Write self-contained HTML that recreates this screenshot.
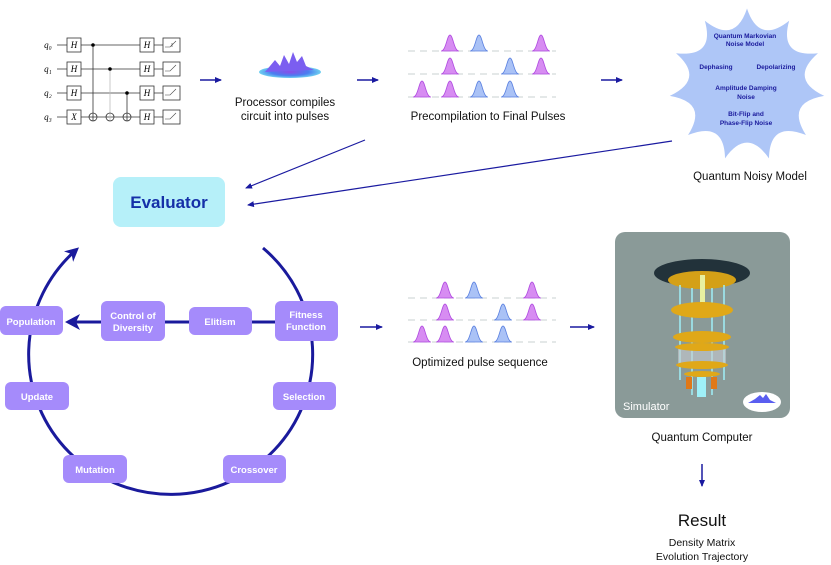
<!DOCTYPE html>
<html><head><meta charset="utf-8"><style>
body{margin:0;background:#fff}
svg{display:block;font-family:"Liberation Sans",sans-serif}
.b{fill:#a58bfb}
.bt{fill:#fff;font-weight:bold;font-size:9.5px;text-anchor:middle}
.n{fill:#1a1a9c;font-weight:bold;font-size:6.5px;text-anchor:middle}
.t{font-size:11.5px;text-anchor:middle;fill:#111}
</style></head><body>
<svg width="831" height="565" viewBox="0 0 831 565" xmlns="http://www.w3.org/2000/svg">
<defs>
<marker id="ah" markerWidth="8" markerHeight="8" refX="6" refY="3" orient="auto" markerUnits="userSpaceOnUse"><path d="M0,0 L7,3 L0,6 Z" fill="#1a1aa0"/></marker>
<marker id="ah2" markerWidth="20" markerHeight="20" refX="10" refY="7" orient="auto" markerUnits="userSpaceOnUse"><path d="M0,0 L14,7 L0,14 L4,7 Z" fill="#1a1a9c"/></marker>
<radialGradient id="bl" cx="50%" cy="50%" r="50%"><stop offset="0" stop-color="#8a4ce8"/><stop offset="0.6" stop-color="#4a7ef0"/><stop offset="1" stop-color="#6fd0f0"/></radialGradient>
</defs>
<!-- circuit -->
<g stroke="#333" stroke-width="0.8" fill="none">
<line x1="57" y1="45" x2="180" y2="45"/><line x1="57" y1="69" x2="180" y2="69"/>
<line x1="57" y1="93" x2="180" y2="93"/><line x1="57" y1="117" x2="180" y2="117"/>
<line x1="93" y1="45" x2="93" y2="121"/><line x1="110" y1="69" x2="110" y2="121" stroke="#bbb"/><line x1="127" y1="93" x2="127" y2="121"/>
<circle cx="93" cy="117" r="4"/><circle cx="110" cy="117" r="4"/><circle cx="127" cy="117" r="4"/>
</g>
<g fill="#000"><circle cx="93" cy="45" r="1.8"/><circle cx="110" cy="69" r="1.8"/><circle cx="127" cy="93" r="1.8"/></g>
<g fill="#fff" stroke="#333" stroke-width="0.8">
<rect x="67" y="38" width="14" height="14"/><rect x="67" y="62" width="14" height="14"/><rect x="67" y="86" width="14" height="14"/><rect x="67" y="110" width="14" height="14"/>
<rect x="140" y="38" width="14" height="14"/><rect x="140" y="62" width="14" height="14"/><rect x="140" y="86" width="14" height="14"/><rect x="140" y="110" width="14" height="14"/>
<rect x="163" y="38" width="17" height="14"/><rect x="163" y="62" width="17" height="14"/><rect x="163" y="86" width="17" height="14"/><rect x="163" y="110" width="17" height="14"/>
</g>
<g font-family="Liberation Serif" font-style="italic" font-size="9" text-anchor="middle">
<text x="74" y="48">H</text><text x="74" y="72">H</text><text x="74" y="96">H</text><text x="74" y="120">X</text>
<text x="147" y="48">H</text><text x="147" y="72">H</text><text x="147" y="96">H</text><text x="147" y="120">H</text>
<text x="48" y="48">q₀</text><text x="48" y="72">q₁</text><text x="48" y="96">q₂</text><text x="48" y="120">q₃</text>
</g>
<g stroke="#444" stroke-width="0.6" fill="none"><path d="M165,47 h5 l6,-6 M172,47 v-4"/><path d="M165,71 h5 l6,-6"/><path d="M165,95 h5 l6,-6"/><path d="M165,119 h5 l6,-6"/></g>
<!-- arrows -->
<g stroke="#1a1aa0" stroke-width="1.5" marker-end="url(#ah)">
<line x1="200" y1="80" x2="221" y2="80"/><line x1="357" y1="80" x2="378" y2="80"/><line x1="601" y1="80" x2="622" y2="80"/>
<line x1="360" y1="327" x2="382" y2="327"/><line x1="570" y1="327" x2="594" y2="327"/>
<line x1="702" y1="464" x2="702" y2="486"/>
</g>
<g stroke="#1a1aa0" stroke-width="1.2" marker-end="url(#ah)">
<line x1="365" y1="140" x2="246" y2="188"/><line x1="672" y1="141" x2="248" y2="205"/>
</g>
<!-- blob -->
<ellipse cx="290" cy="72" rx="31" ry="6" fill="url(#bl)"/>
<path d="M265,72 L275,60 L280,66 L284,55 L289,64 L293,52 L297,62 L302,56 L306,66 L314,70 Z" fill="#7b5ef0"/>
<text class="t" x="285" y="106">Processor compiles</text><text class="t" x="285" y="120">circuit into pulses</text>
<g id="pulses"></g>
<text class="t" x="488" y="120">Precompilation to Final Pulses</text>
<text class="t" x="480" y="366">Optimized pulse sequence</text>
<!-- star -->
<path id="star" fill="#aec6f7"/>
<g class="n">
<text x="745" y="38">Quantum Markovian</text><text x="745" y="46">Noise Model</text>
<text x="716" y="69">Dephasing</text><text x="776" y="69">Depolarizing</text>
<text x="746" y="90">Amplitude Damping</text><text x="746" y="99">Noise</text>
<text x="746" y="116">Bit-Flip and</text><text x="746" y="125">Phase-Flip Noise</text>
</g>
<text class="t" x="750" y="180">Quantum Noisy Model</text>
<!-- evaluator -->
<rect x="113" y="177" width="112" height="50" rx="8" fill="#b6f0f9"/>
<text x="169" y="208" text-anchor="middle" font-weight="bold" font-size="17" fill="#1530a8">Evaluator</text>
<!-- cycle -->
<path d="M263,248 A142,140 0 1 1 76,250" fill="none" stroke="#1a1a9c" stroke-width="3" marker-end="url(#ah2)"/>
<line x1="290" y1="322" x2="72" y2="322" stroke="#1a1a9c" stroke-width="3"/>
<path d="M65,322 L80,314 L76,322 L80,330 Z" fill="#1a1a9c"/>
<g class="b">
<rect x="0" y="306" width="63" height="29" rx="6"/><rect x="101" y="301" width="64" height="40" rx="6"/>
<rect x="189" y="307" width="63" height="28" rx="6"/><rect x="275" y="301" width="63" height="40" rx="6"/>
<rect x="5" y="382" width="64" height="28" rx="6"/><rect x="273" y="382" width="63" height="28" rx="6"/>
<rect x="63" y="455" width="64" height="28" rx="6"/><rect x="223" y="455" width="63" height="28" rx="6"/>
</g>
<g class="bt">
<text x="31" y="325">Population</text><text x="133" y="319">Control of</text><text x="133" y="331">Diversity</text>
<text x="220" y="325">Elitism</text><text x="306" y="318">Fitness</text><text x="306" y="330">Function</text>
<text x="37" y="400">Update</text><text x="304" y="400">Selection</text>
<text x="95" y="473">Mutation</text><text x="254" y="473">Crossover</text>
</g>
<!-- simulator -->
<rect x="615" y="232" width="175" height="186" rx="10" fill="#8a9a98"/>
<ellipse cx="702" cy="273" rx="48" ry="14" fill="#22323a"/>
<ellipse cx="702" cy="280" rx="34" ry="9" fill="#d4a017"/>
<g stroke="#9ff0f8" stroke-width="1.5"><line x1="680" y1="285" x2="680" y2="380"/><line x1="724" y1="285" x2="724" y2="380"/><line x1="692" y1="288" x2="692" y2="395"/><line x1="712" y1="288" x2="712" y2="395"/></g>
<rect x="700" y="275" width="5" height="30" fill="#e8f0a0"/>
<ellipse cx="702" cy="310" rx="31" ry="8" fill="#e0a818"/>
<ellipse cx="702" cy="337" rx="29" ry="6" fill="#e0a818"/>
<rect x="678" y="346" width="48" height="18" fill="#c8ccd0" opacity="0.6"/>
<ellipse cx="702" cy="347" rx="27" ry="4" fill="#e0a818"/>
<ellipse cx="702" cy="365" rx="26" ry="4" fill="#e0a818"/>
<ellipse cx="702" cy="374" rx="18" ry="3" fill="#e0a818"/>
<rect x="686" y="377" width="6" height="12" fill="#e07818"/><rect x="711" y="377" width="6" height="12" fill="#e07818"/>
<rect x="697" y="377" width="9" height="20" fill="#9ff0f8"/>
<text x="623" y="410" fill="#fff" font-size="11">Simulator</text>
<ellipse cx="762" cy="402" rx="19" ry="10" fill="#fff"/>
<path d="M748,403 L755,399 L760,395 L763,398 L766,394 L770,400 L776,403 Z" fill="#5a5ef0"/>
<text class="t" x="702" y="441">Quantum Computer</text>
<text x="702" y="526" text-anchor="middle" font-size="17" fill="#111">Result</text>
<text x="702" y="546" text-anchor="middle" font-size="10.5" fill="#111">Density Matrix</text>
<text x="702" y="560" text-anchor="middle" font-size="10.5" fill="#111">Evolution Trajectory</text>
</svg>
<script>
var NS="http://www.w3.org/2000/svg",g=document.getElementById("pulses");
function add(tag,a){var e=document.createElementNS(NS,tag);for(var k in a)e.setAttribute(k,a[k]);g.appendChild(e);}
function pulse(cx,b,c){var h=16;add("path",{d:"M"+(cx-9)+","+b+" C"+(cx-4)+","+b+" "+(cx-3)+","+(b-h)+" "+cx+","+(b-h)+" C"+(cx+3)+","+(b-h)+" "+(cx+4)+","+b+" "+(cx+9)+","+b+" Z",fill:c?"#d78cf2":"#aac2f6",stroke:c?"#b04be0":"#5a80e0","stroke-width":0.8});}
function dash(y,x1,x2){add("line",{x1:x1,y1:y,x2:x2,y2:y,stroke:"#c8d0d0","stroke-dasharray":"7,5","stroke-width":1});}
var A=[[51,[422,450,479,510,541],[null,1,0,null,1]],[74,[422,450,479,510,541],[null,1,null,0,1]],[97,[422,450,479,510,541],[1,1,0,0,null]],
[298,[422,445,474,503,532],[null,1,0,null,1]],[320,[422,445,474,503,532],[null,1,null,0,1]],[342,[422,445,474,503,532],[1,1,0,0,null]]];
A.forEach(function(r){dash(r[0],408,556);r[1].forEach(function(x,i){var c=r[2][i];if(c!==null)pulse(x,r[0],c);});});
var cx=747,cy=85,n=11,R=78,r=56,d="";
for(var i=0;i<n;i++){var a=-Math.PI/2+i*2*Math.PI/n,b=a+2*Math.PI/n;
var p=[cx+R*Math.cos(a),cy+R*0.98*Math.sin(a)],q=[cx+R*Math.cos(b),cy+R*0.98*Math.sin(b)];
var m=(a+b)/2,c=[cx+r*0.75*Math.cos(m),cy+r*0.75*Math.sin(m)];
d+=(i?"":"M"+p[0]+","+p[1])+" Q"+c[0]+","+c[1]+" "+q[0]+","+q[1];}
document.getElementById("star").setAttribute("d",d+"Z");
</script>
</body></html>
